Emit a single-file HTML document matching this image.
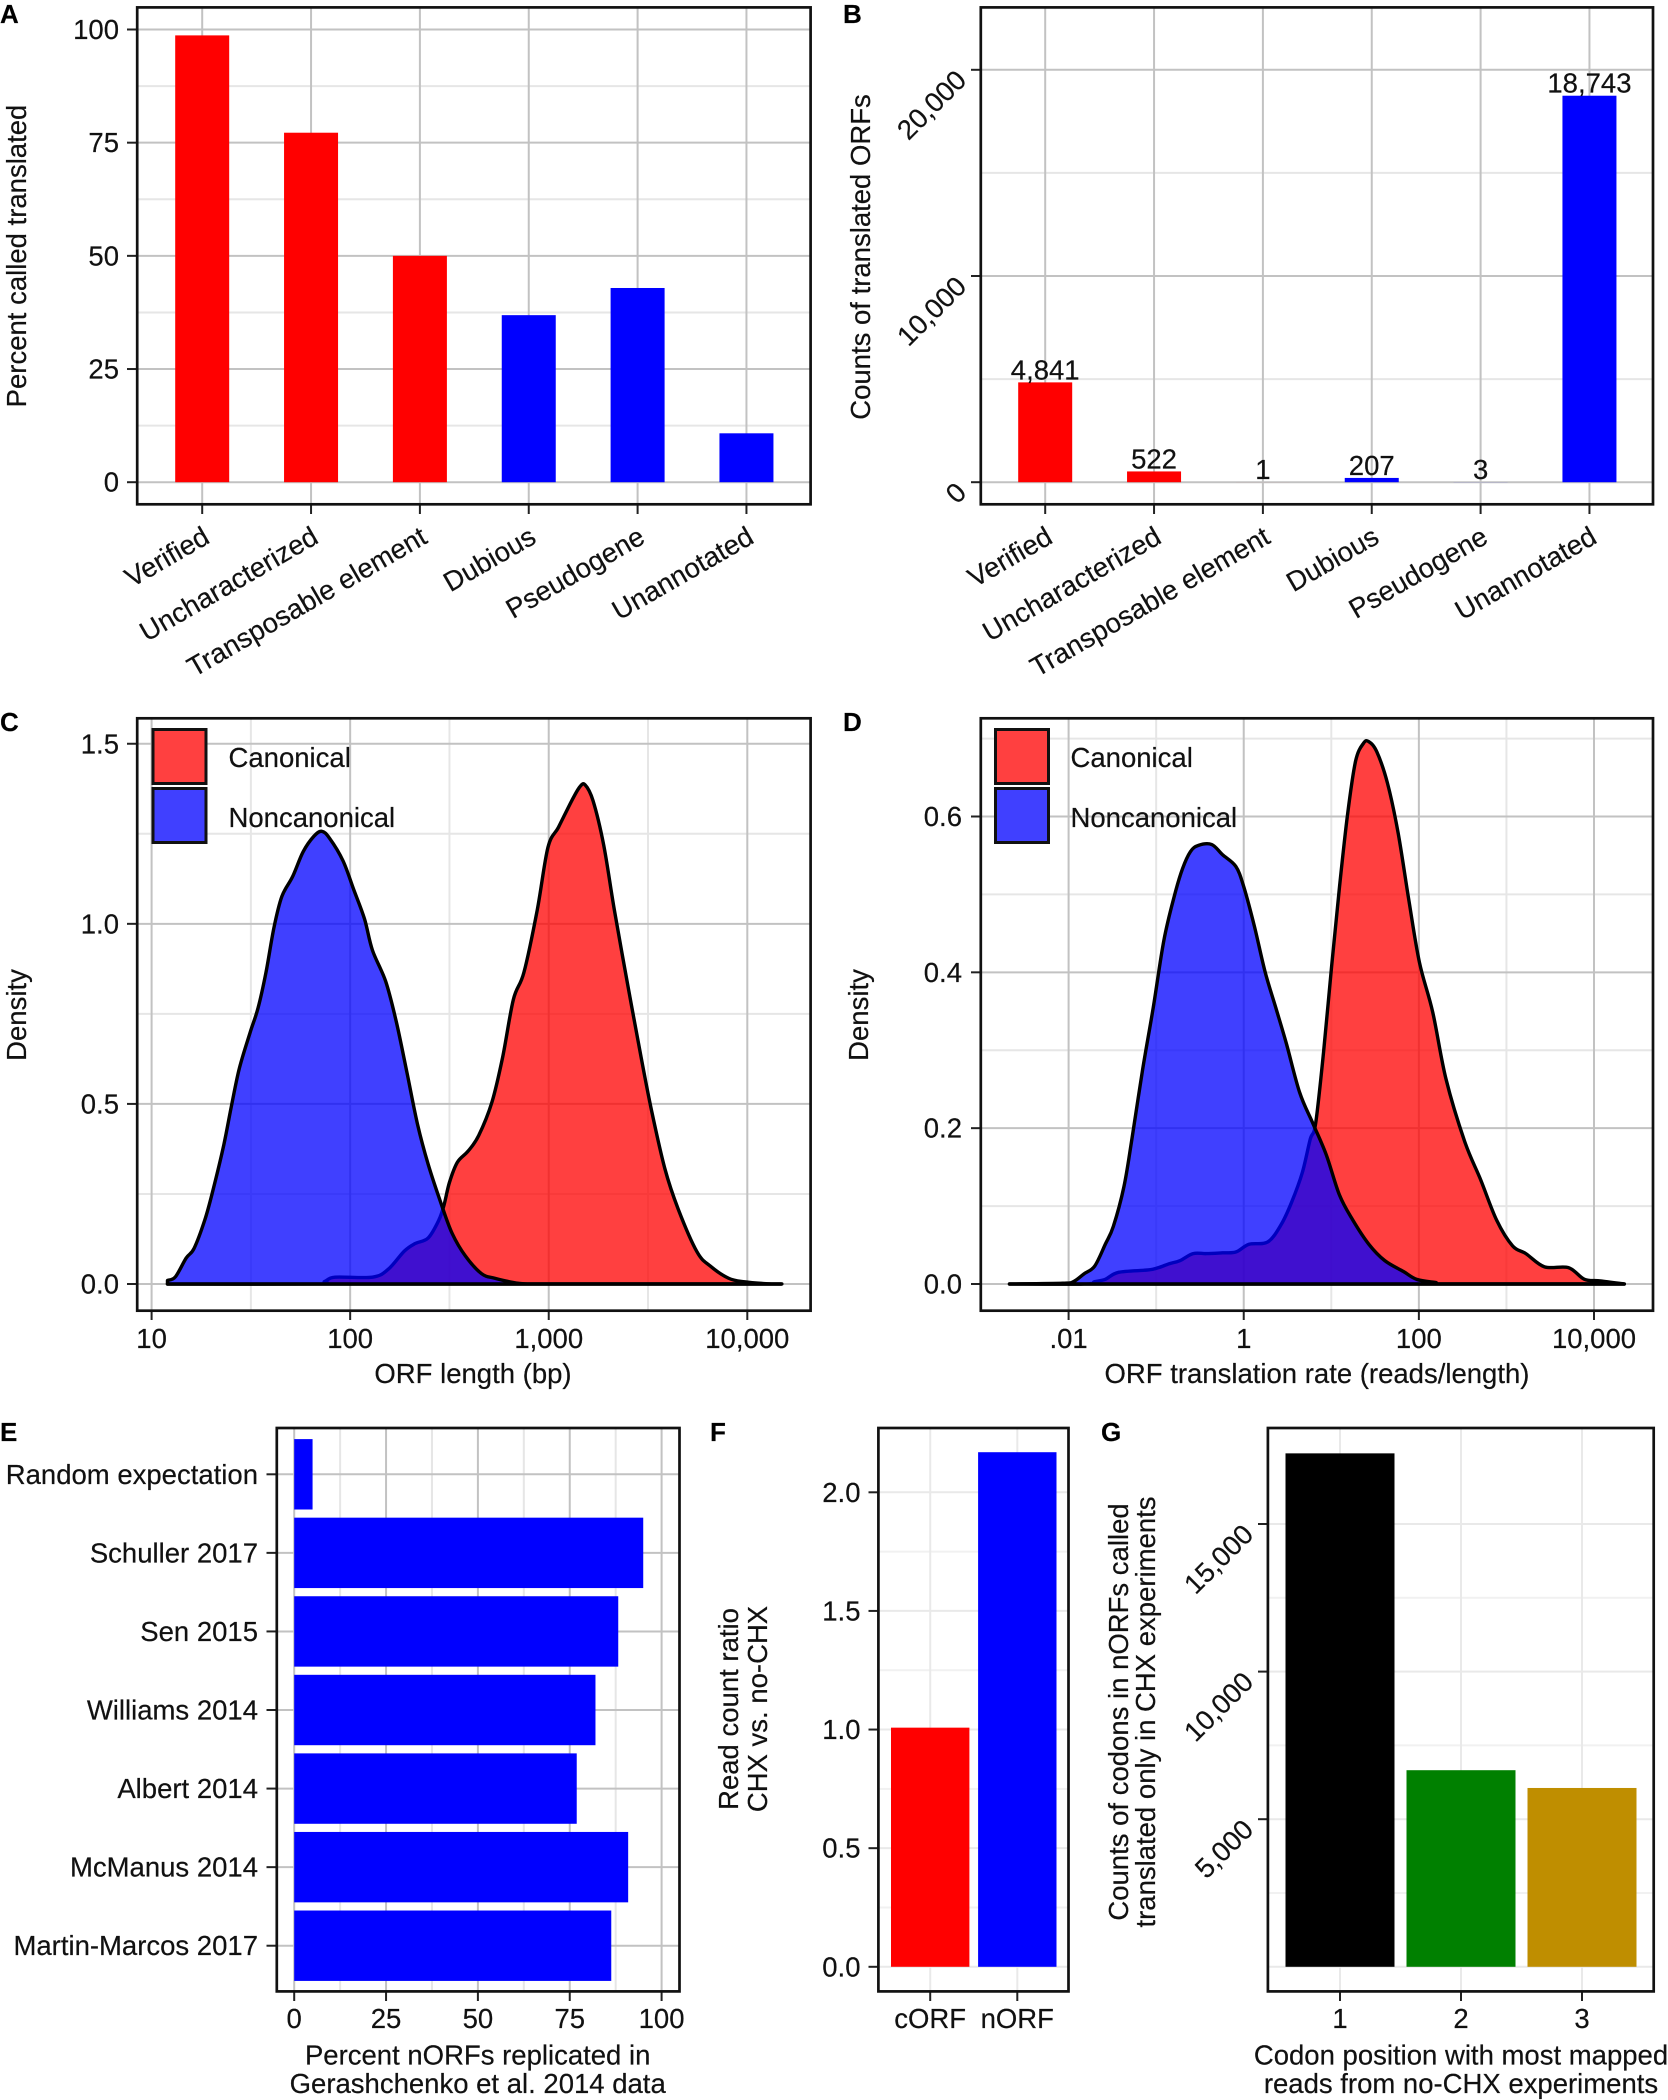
<!DOCTYPE html>
<html lang="en">
<head>
<meta charset="utf-8">
<title>Translated ORF figure</title>
<style>
html,body{margin:0;padding:0;background:#fff;width:1668px;height:2100px;overflow:hidden}
svg{display:block}
text{font-family:"Liberation Sans",sans-serif;font-size:27.5px;fill:#111;stroke:#111;stroke-width:0.2}
.panel-letter{font-weight:bold;font-size:26px;fill:#000}
.frame{fill:none;stroke:#111;stroke-width:2.7}
</style>
</head>
<body>
<svg id="figure" xmlns="http://www.w3.org/2000/svg" width="1668" height="2100" viewBox="0 0 1668 2100">
  <rect x="0" y="0" width="1668" height="2100" fill="#fff"/>

  <g>
    <text class="panel-letter" x="0" y="23">A</text>
    <g id="plot-a"></g>
    <rect class="frame" x="137.2" y="7.4" width="673.4" height="496.9"/>
    <text transform="translate(26,256) rotate(-90)" text-anchor="middle">Percent called translated</text>
  </g>

  <g>
    <text class="panel-letter" x="843" y="23">B</text>
    <g id="plot-b"></g>
    <rect class="frame" x="980.8" y="7.4" width="672.2" height="496.9"/>
    <text transform="translate(870,257) rotate(-90)" text-anchor="middle">Counts of translated ORFs</text>
  </g>

  <g>
    <text class="panel-letter" x="0" y="731">C</text>
    <g id="plot-c"></g>
    <rect class="frame" x="137.2" y="718.3" width="673.4" height="592.4"/>
    <g>
      <rect x="153" y="729.5" width="53" height="54" fill="#ff4040" stroke="#111" stroke-width="3"/>
      <rect x="153" y="788.5" width="53" height="54" fill="#4040ff" stroke="#111" stroke-width="3"/>
      <text x="228.5" y="767">Canonical</text>
      <text x="228.5" y="827">Noncanonical</text>
    </g>
    <text transform="translate(26,1015) rotate(-90)" text-anchor="middle">Density</text>
    <text x="473" y="1383" text-anchor="middle">ORF length (bp)</text>
  </g>

  <g>
    <text class="panel-letter" x="843" y="731">D</text>
    <g id="plot-d"></g>
    <rect class="frame" x="980.8" y="718.3" width="672.2" height="592.4"/>
    <g>
      <rect x="995.5" y="729.5" width="53" height="54" fill="#ff4040" stroke="#111" stroke-width="3"/>
      <rect x="995.5" y="788.5" width="53" height="54" fill="#4040ff" stroke="#111" stroke-width="3"/>
      <text x="1070.5" y="767">Canonical</text>
      <text x="1070.5" y="827">Noncanonical</text>
    </g>
    <text transform="translate(868,1015) rotate(-90)" text-anchor="middle">Density</text>
    <text x="1317" y="1383" text-anchor="middle">ORF translation rate (reads/length)</text>
  </g>

  <g>
    <text class="panel-letter" x="0" y="1441">E</text>
    <g id="plot-e"></g>
    <rect class="frame" x="276.8" y="1428" width="402.7" height="563.4"/>
    <text x="477.7" y="2064.5" text-anchor="middle">Percent nORFs replicated in</text>
    <text x="477.7" y="2093" text-anchor="middle">Gerashchenko et al. 2014 data</text>
  </g>

  <g>
    <text class="panel-letter" x="710" y="1441">F</text>
    <g id="plot-f"></g>
    <rect class="frame" x="878.4" y="1428" width="190.1" height="563.4"/>
    <text transform="translate(738,1709) rotate(-90)" text-anchor="middle">Read count ratio</text>
    <text transform="translate(767,1709) rotate(-90)" text-anchor="middle">CHX vs. no-CHX</text>
  </g>

  <g>
    <text class="panel-letter" x="1101" y="1441">G</text>
    <g id="plot-g"></g>
    <rect class="frame" x="1267.9" y="1428" width="385.8" height="563.4"/>
    <text transform="translate(1128,1712) rotate(-90)" text-anchor="middle">Counts of codons in nORFs called</text>
    <text transform="translate(1155,1712) rotate(-90)" text-anchor="middle">translated only in CHX experiments</text>
    <text x="1461" y="2064.5" text-anchor="middle">Codon position with most mapped</text>
    <text x="1461" y="2093" text-anchor="middle">reads from no-CHX experiments</text>
  </g>
</svg>

<script>
// ---------- Panel A / B data ----------
const orfCategories = ['Verified', 'Uncharacterized', 'Transposable element', 'Dubious', 'Pseudogene', 'Unannotated'];
const categoryColors = ['#ff0000', '#ff0000', '#ff0000', '#0000ff', '#0000ff', '#0000ff'];
const percentTranslated = [98.7, 77.2, 50, 36.9, 42.9, 10.8];
const percentMajorTicks = [0, 25, 50, 75, 100];
const percentMinorTicks = [12.5, 37.5, 62.5, 87.5];
const translatedCounts = [4841, 522, 1, 207, 3, 18743];
const translatedCountLabels = ['4,841', '522', '1', '207', '3', '18,743'];
const countMajorTicks = [0, 10000, 20000];
const countMajorTickLabels = ['0', '10,000', '20,000'];
const countMinorTicks = [5000, 15000];

// ---------- Panel C data (log10 ORF length vs density) ----------
const lengthNoncanonicalLog = [1.08,1.12,1.174,1.214,1.268,1.308,1.362,1.402,1.442,1.496,1.536,1.576,1.616,1.656,1.71,1.763,1.817,1.857,1.897,1.964,2.018,2.072,2.112,2.179,2.232,2.286,2.339,2.393,2.46,2.514,2.58,2.661,2.728,2.848,2.969,3.5,4.17];
const lengthNoncanonicalDensity = [0.01,0.02,0.072,0.099,0.178,0.258,0.382,0.494,0.599,0.698,0.766,0.865,0.989,1.076,1.131,1.2,1.243,1.257,1.237,1.175,1.095,1.014,0.927,0.84,0.729,0.587,0.444,0.332,0.22,0.14,0.078,0.029,0.016,0.002,0,0,0];
const lengthCanonicalLog = [1.08,1.817,1.871,1.924,2.112,2.192,2.272,2.326,2.393,2.447,2.473,2.5,2.54,2.594,2.647,2.714,2.768,2.822,2.875,2.942,2.996,3.049,3.116,3.156,3.183,3.223,3.277,3.33,3.398,3.465,3.518,3.585,3.652,3.746,3.813,3.906,3.987,4.094,4.174];
const lengthCanonicalDensity = [0,0,0.007,0.019,0.019,0.041,0.091,0.112,0.128,0.178,0.22,0.282,0.338,0.369,0.412,0.505,0.63,0.79,0.865,1.038,1.212,1.268,1.342,1.38,1.386,1.342,1.218,1.04,0.83,0.63,0.481,0.32,0.208,0.09,0.05,0.016,0.006,0.001,0];
const lengthTicksLog = [1, 2, 3, 4];
const lengthTickLabels = ['10', '100', '1,000', '10,000'];
const lengthMinorTicksLog = [1.5, 2.5, 3.5];
const densityCMajor = [0, 0.5, 1, 1.5];
const densityCMajorLabels = ['0.0', '0.5', '1.0', '1.5'];
const densityCMinor = [0.25, 0.75, 1.25];

// ---------- Panel D data (log10 rate vs density) ----------
const rateNoncanonicalLog = [-2.675,-2.067,-1.945,-1.824,-1.702,-1.581,-1.489,-1.368,-1.277,-1.155,-1.033,-0.912,-0.79,-0.699,-0.608,-0.517,-0.365,-0.243,-0.091,0,0.122,0.243,0.365,0.486,0.638,0.79,0.942,1.094,1.246,1.429,1.611,1.824,1.976,2.188,2.371,4.346];
const rateNoncanonicalDensity = [0,0.001,0.003,0.013,0.023,0.051,0.074,0.125,0.186,0.275,0.355,0.441,0.499,0.533,0.555,0.563,0.564,0.551,0.536,0.51,0.459,0.401,0.355,0.309,0.246,0.206,0.166,0.114,0.082,0.051,0.03,0.016,0.006,0.002,0,0];
const rateCanonicalLog = [-2.675,-1.824,-1.702,-1.581,-1.429,-1.094,-0.973,-0.851,-0.729,-0.578,-0.426,-0.243,-0.091,0.061,0.274,0.426,0.547,0.669,0.76,0.821,0.912,1.003,1.094,1.185,1.277,1.368,1.429,1.52,1.641,1.763,1.885,2.006,2.158,2.31,2.523,2.705,2.888,3.07,3.222,3.435,3.708,3.891,4.073,4.346];
const rateCanonicalDensity = [0,0,0.003,0.006,0.015,0.018,0.021,0.026,0.03,0.039,0.039,0.04,0.041,0.051,0.054,0.076,0.105,0.143,0.186,0.206,0.298,0.407,0.51,0.602,0.671,0.694,0.696,0.683,0.643,0.579,0.493,0.413,0.349,0.263,0.183,0.134,0.082,0.049,0.039,0.022,0.021,0.006,0.004,0];
const rateTicksLog = [-2, 0, 2, 4];
const rateTickLabels = ['.01', '1', '100', '10,000'];
const rateMinorTicksLog = [-1, 1, 3];
const densityDMajor = [0, 0.2, 0.4, 0.6];
const densityDMajorLabels = ['0.0', '0.2', '0.4', '0.6'];
const densityDMinor = [0.1, 0.3, 0.5, 0.7];

// ---------- Panel E data ----------
const replicationStudies = ['Random expectation', 'Schuller 2017', 'Sen 2015', 'Williams 2014', 'Albert 2014', 'McManus 2014', 'Martin-Marcos 2017'];
const replicationPercent = [5, 95, 88.2, 82, 76.9, 90.9, 86.3];
const replicationMajorTicks = [0, 25, 50, 75, 100];
const replicationMinorTicks = [12.5, 37.5, 62.5, 87.5];

// ---------- Panel F data ----------
const orfClasses = ['cORF', 'nORF'];
const orfClassColors = ['#ff0000', '#0000ff'];
const readCountRatios = [1.008, 2.169];
const ratioMajorTicks = [0, 0.5, 1, 1.5, 2];
const ratioMajorLabels = ['0.0', '0.5', '1.0', '1.5', '2.0'];
const ratioMinorTicks = [0.25, 0.75, 1.25, 1.75];

// ---------- Panel G data ----------
const codonPositions = ['1', '2', '3'];
const codonColors = ['#000000', '#008000', '#bf8e00'];
const codonCounts = [17393, 6660, 6058];
const codonMajorTicks = [5000, 10000, 15000];
const codonMajorLabels = ['5,000', '10,000', '15,000'];
const codonGridExtra = [0];
const codonMinorTicks = [2500, 7500, 12500];

// ---------- Axis functions ----------
function linear(d0, d1, r0, r1) {
  return function (v) { return r0 + (v - d0) * (r1 - r0) / (d1 - d0); };
}
function band(first, step) {
  return function (i) { return first + i * step; };
}
const yA = linear(0, 100, 482.2, 29.5);
const xA = band(202.2, 108.85);
const yB = linear(0, 20000, 482.2, 69.8);
const xB = band(1045.2, 108.85);
const xC = linear(1, 4, 151.6, 747.3);
const yC = linear(0, 1.5, 1284, 743.75);
const xD = linear(-2, 4, 1068.6, 1594);
const yD = linear(0, 0.6, 1284, 816.5);
const xE = linear(0, 100, 294.2, 661.6);
const yE = band(1474.3, 78.57);
const yF = linear(0, 2, 1966.8, 1492.3);
const xF = band(930.2, 87.1);
const yG = linear(0, 15000, 1966.8, 1524);
const xG = band(1340, 121);

// ---------- Drawing helpers ----------
const SVG_NS = 'http://www.w3.org/2000/svg';
function make(tag, parent, props, content) {
  const node = document.createElementNS(SVG_NS, tag);
  Object.keys(props).forEach(function (k) { node.setAttribute(k, props[k]); });
  if (content !== undefined) node.textContent = content;
  parent.appendChild(node);
  return node;
}
function gridLine(parent, x1, y1, x2, y2, color, name) {
  const line = make('line', parent, { x1: x1, y1: y1, x2: x2, y2: y2, stroke: color, 'stroke-width': 2 });
  
  
  return line;
}
function tick(parent, x1, y1, x2, y2, name) {
  const line = make('line', parent, { x1: x1, y1: y1, x2: x2, y2: y2, stroke: '#222', 'stroke-width': 2 });
  
  
  return line;
}
function label(parent, props, content, name) {
  const t = make('text', parent, props, content);
  
  
  return t;
}
function bar(parent, x, y, w, h, color, name) {
  const r = make('rect', parent, { x: x, y: y, width: w, height: h, fill: color });
  
  
  return r;
}
function smoothPath(pts) {
  let d = 'M' + pts[0][0].toFixed(2) + ' ' + pts[0][1].toFixed(2);
  for (let i = 0; i < pts.length - 1; i++) {
    const p0 = pts[Math.max(i - 1, 0)], p1 = pts[i], p2 = pts[i + 1], p3 = pts[Math.min(i + 2, pts.length - 1)];
    const c1x = p1[0] + (p2[0] - p0[0]) / 6, c1y = p1[1] + (p2[1] - p0[1]) / 6;
    const c2x = p2[0] - (p3[0] - p1[0]) / 6, c2y = p2[1] - (p3[1] - p1[1]) / 6;
    d += 'C' + c1x.toFixed(2) + ' ' + c1y.toFixed(2) + ' ' + c2x.toFixed(2) + ' ' + c2y.toFixed(2) + ' ' + p2[0].toFixed(2) + ' ' + p2[1].toFixed(2);
  }
  return d;
}
function densityArea(parent, xs, ys, xScale, yScale, color, name) {
  const pts = xs.map(function (v, i) { return [xScale(v), yScale(ys[i])]; });
  const base = yScale(0);
  const d = smoothPath(pts) + 'L' + pts[pts.length - 1][0].toFixed(2) + ' ' + base + 'L' + pts[0][0].toFixed(2) + ' ' + base + 'Z';
  const path = make('path', parent, { d: d, fill: color, 'fill-opacity': 0.75, stroke: '#000', 'stroke-width': 3.4, 'stroke-linejoin': 'round' });
  
  
  return path;
}

const MAJOR = '#c2c2c2', MINOR = '#e6e6e6', SOFT_MAJOR = '#e9e9e9', SOFT_MINOR = '#f1f1f1';

// ---------- Panel A ----------
(function () {
  const g = document.getElementById('plot-a');
  percentMinorTicks.forEach(function (v) { gridLine(g, 137.2, yA(v), 810.6, yA(v), MINOR, 'grid-minor-y-a'); });
  percentMajorTicks.forEach(function (v) { gridLine(g, 137.2, yA(v), 810.6, yA(v), MAJOR, 'grid-major-y-a'); });
  orfCategories.forEach(function (c, i) { gridLine(g, xA(i), 7.4, xA(i), 504.3, MAJOR, 'grid-x-a'); });
  percentTranslated.forEach(function (v, i) {
    bar(g, xA(i) - 27, yA(v), 54, yA(0) - yA(v), categoryColors[i], 'bar-a-' + orfCategories[i].toLowerCase().replace(/ /g, '-'));
  });
  percentMajorTicks.forEach(function (v) {
    tick(g, 127, yA(v), 137.2, yA(v), 'y-tick-a');
    label(g, { x: 119, y: yA(v) + 9.5, 'text-anchor': 'end' }, String(v), 'y-tick-label-a');
  });
  orfCategories.forEach(function (c, i) {
    tick(g, xA(i), 504.3, xA(i), 514, 'x-tick-a');
    label(g, { transform: 'translate(' + (xA(i) + 9) + ',542) rotate(-30)', 'text-anchor': 'end' }, c, 'x-tick-label-a');
  });
})();

// ---------- Panel B ----------
(function () {
  const g = document.getElementById('plot-b');
  countMinorTicks.forEach(function (v) { gridLine(g, 980.8, yB(v), 1653, yB(v), MINOR, 'grid-minor-y-b'); });
  countMajorTicks.forEach(function (v) { gridLine(g, 980.8, yB(v), 1653, yB(v), MAJOR, 'grid-major-y-b'); });
  orfCategories.forEach(function (c, i) { gridLine(g, xB(i), 7.4, xB(i), 504.3, MAJOR, 'grid-x-b'); });
  translatedCounts.forEach(function (v, i) {
    bar(g, xB(i) - 27, yB(v), 54, yB(0) - yB(v), categoryColors[i], 'bar-b-' + orfCategories[i].toLowerCase().replace(/ /g, '-'));
    label(g, { x: xB(i), y: yB(v) - 3, 'text-anchor': 'middle' }, translatedCountLabels[i], 'bar-value-b');
  });
  countMajorTicks.forEach(function (v, i) {
    tick(g, 971, yB(v), 980.8, yB(v), 'y-tick-b');
    label(g, { transform: 'translate(968,' + (yB(v) + 12) + ') rotate(-45)', 'text-anchor': 'end' }, countMajorTickLabels[i], 'y-tick-label-b');
  });
  orfCategories.forEach(function (c, i) {
    tick(g, xB(i), 504.3, xB(i), 514, 'x-tick-b');
    label(g, { transform: 'translate(' + (xB(i) + 9) + ',542) rotate(-30)', 'text-anchor': 'end' }, c, 'x-tick-label-b');
  });
})();

// ---------- Panel C ----------
(function () {
  const g = document.getElementById('plot-c');
  densityCMinor.forEach(function (v) { gridLine(g, 137.2, yC(v), 810.6, yC(v), MINOR, 'grid-minor-y-c'); });
  lengthMinorTicksLog.forEach(function (v) { gridLine(g, xC(v), 718.3, xC(v), 1310.7, MINOR, 'grid-minor-x-c'); });
  densityCMajor.forEach(function (v) { gridLine(g, 137.2, yC(v), 810.6, yC(v), MAJOR, 'grid-major-y-c'); });
  lengthTicksLog.forEach(function (v) { gridLine(g, xC(v), 718.3, xC(v), 1310.7, MAJOR, 'grid-major-x-c'); });
  densityArea(g, lengthCanonicalLog, lengthCanonicalDensity, xC, yC, '#ff0000', 'density-canonical-length');
  densityArea(g, lengthNoncanonicalLog, lengthNoncanonicalDensity, xC, yC, '#0000ff', 'density-noncanonical-length');
  densityCMajor.forEach(function (v, i) {
    tick(g, 127, yC(v), 137.2, yC(v), 'y-tick-c');
    label(g, { x: 119, y: yC(v) + 9.5, 'text-anchor': 'end' }, densityCMajorLabels[i], 'y-tick-label-c');
  });
  lengthTicksLog.forEach(function (v, i) {
    tick(g, xC(v), 1310.7, xC(v), 1320, 'x-tick-c');
    label(g, { x: xC(v), y: 1348, 'text-anchor': 'middle' }, lengthTickLabels[i], 'x-tick-label-c');
  });
})();

// ---------- Panel D ----------
(function () {
  const g = document.getElementById('plot-d');
  densityDMinor.forEach(function (v) { gridLine(g, 980.8, yD(v), 1653, yD(v), MINOR, 'grid-minor-y-d'); });
  rateMinorTicksLog.forEach(function (v) { gridLine(g, xD(v), 718.3, xD(v), 1310.7, MINOR, 'grid-minor-x-d'); });
  densityDMajor.forEach(function (v) { gridLine(g, 980.8, yD(v), 1653, yD(v), MAJOR, 'grid-major-y-d'); });
  rateTicksLog.forEach(function (v) { gridLine(g, xD(v), 718.3, xD(v), 1310.7, MAJOR, 'grid-major-x-d'); });
  densityArea(g, rateCanonicalLog, rateCanonicalDensity, xD, yD, '#ff0000', 'density-canonical-rate');
  densityArea(g, rateNoncanonicalLog, rateNoncanonicalDensity, xD, yD, '#0000ff', 'density-noncanonical-rate');
  densityDMajor.forEach(function (v, i) {
    tick(g, 971, yD(v), 980.8, yD(v), 'y-tick-d');
    label(g, { x: 962, y: yD(v) + 9.5, 'text-anchor': 'end' }, densityDMajorLabels[i], 'y-tick-label-d');
  });
  rateTicksLog.forEach(function (v, i) {
    tick(g, xD(v), 1310.7, xD(v), 1320, 'x-tick-d');
    label(g, { x: xD(v), y: 1348, 'text-anchor': 'middle' }, rateTickLabels[i], 'x-tick-label-d');
  });
})();

// ---------- Panel E ----------
(function () {
  const g = document.getElementById('plot-e');
  replicationMinorTicks.forEach(function (v) { gridLine(g, xE(v), 1428, xE(v), 1991.4, MINOR, 'grid-minor-x-e'); });
  replicationMajorTicks.forEach(function (v) { gridLine(g, xE(v), 1428, xE(v), 1991.4, MAJOR, 'grid-major-x-e'); });
  replicationStudies.forEach(function (s, i) { gridLine(g, 276.8, yE(i), 679.5, yE(i), MAJOR, 'grid-y-e'); });
  replicationPercent.forEach(function (v, i) {
    bar(g, xE(0), yE(i) - 35.2, xE(v) - xE(0), 70.4, '#0000ff', 'bar-e-' + replicationStudies[i].toLowerCase().replace(/ /g, '-'));
  });
  replicationStudies.forEach(function (s, i) {
    tick(g, 266.5, yE(i), 276.8, yE(i), 'y-tick-e');
    label(g, { x: 258, y: yE(i) + 9.5, 'text-anchor': 'end' }, s, 'y-tick-label-e');
  });
  replicationMajorTicks.forEach(function (v) {
    tick(g, xE(v), 1991.4, xE(v), 2001, 'x-tick-e');
    label(g, { x: xE(v), y: 2028, 'text-anchor': 'middle' }, String(v), 'x-tick-label-e');
  });
})();

// ---------- Panel F ----------
(function () {
  const g = document.getElementById('plot-f');
  ratioMinorTicks.forEach(function (v) { gridLine(g, 878.4, yF(v), 1068.5, yF(v), SOFT_MINOR, 'grid-minor-y-f'); });
  ratioMajorTicks.forEach(function (v) { gridLine(g, 878.4, yF(v), 1068.5, yF(v), SOFT_MAJOR, 'grid-major-y-f'); });
  orfClasses.forEach(function (c, i) { gridLine(g, xF(i), 1428, xF(i), 1991.4, SOFT_MAJOR, 'grid-x-f'); });
  readCountRatios.forEach(function (v, i) {
    bar(g, xF(i) - 39.2, yF(v), 78.4, yF(0) - yF(v), orfClassColors[i], 'bar-f-' + orfClasses[i]);
  });
  ratioMajorTicks.forEach(function (v, i) {
    tick(g, 868.5, yF(v), 878.4, yF(v), 'y-tick-f');
    label(g, { x: 860.5, y: yF(v) + 9.5, 'text-anchor': 'end' }, ratioMajorLabels[i], 'y-tick-label-f');
  });
  orfClasses.forEach(function (c, i) {
    tick(g, xF(i), 1991.4, xF(i), 2001, 'x-tick-f');
    label(g, { x: xF(i), y: 2028, 'text-anchor': 'middle' }, c, 'x-tick-label-f');
  });
})();

// ---------- Panel G ----------
(function () {
  const g = document.getElementById('plot-g');
  codonMinorTicks.forEach(function (v) { gridLine(g, 1267.9, yG(v), 1653.7, yG(v), SOFT_MINOR, 'grid-minor-y-g'); });
  codonGridExtra.concat(codonMajorTicks).forEach(function (v) { gridLine(g, 1267.9, yG(v), 1653.7, yG(v), SOFT_MAJOR, 'grid-major-y-g'); });
  codonPositions.forEach(function (c, i) { gridLine(g, xG(i), 1428, xG(i), 1991.4, SOFT_MAJOR, 'grid-x-g'); });
  codonCounts.forEach(function (v, i) {
    bar(g, xG(i) - 54.5, yG(v), 109, yG(0) - yG(v), codonColors[i], 'bar-g-position-' + codonPositions[i]);
  });
  codonMajorTicks.forEach(function (v, i) {
    tick(g, 1258, yG(v), 1267.9, yG(v), 'y-tick-g');
    label(g, { transform: 'translate(1255,' + (yG(v) + 12) + ') rotate(-45)', 'text-anchor': 'end' }, codonMajorLabels[i], 'y-tick-label-g');
  });
  codonPositions.forEach(function (c, i) {
    tick(g, xG(i), 1991.4, xG(i), 2001, 'x-tick-g');
    label(g, { x: xG(i), y: 2028, 'text-anchor': 'middle' }, c, 'x-tick-label-g');
  });
})();
</script>
</body>
</html>
